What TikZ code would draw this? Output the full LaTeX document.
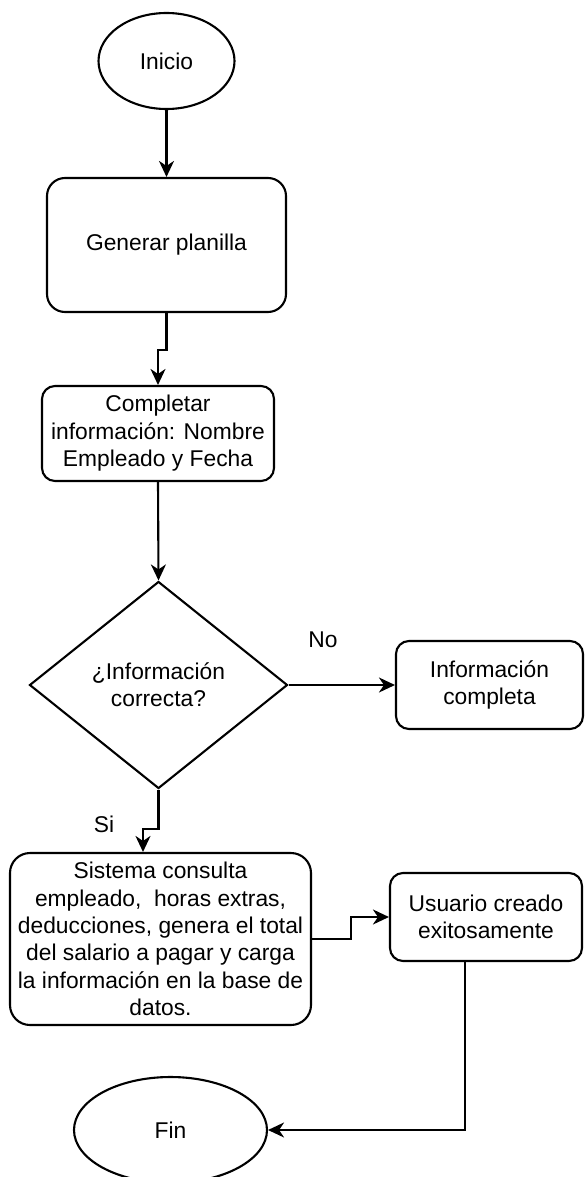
\documentclass[tikz,border=0pt]{standalone}
\usepackage{fontspec}
\setmainfont{Liberation Sans}
\usetikzlibrary{shapes.geometric,arrows.meta}
\begin{document}
\begin{tikzpicture}[x=1pt,y=-1pt,
  every node/.style={font=\fontsize{22.8}{27.4}\selectfont, text=black},
  base/.style={draw=black, line width=2.1pt, inner sep=0pt, align=center},
  term/.style={base, ellipse},
  proc/.style={base, rectangle},
  dec/.style={base, diamond},
  conn/.style={draw=black, line width=2.1pt, -{Stealth[length=16pt,width=15pt,inset=5pt]}},
  lbl/.style={inner sep=0pt}]
\useasboundingbox (0,0) rectangle (584,1177);

% terminals, steps and the decision
\node[term, minimum width=136pt, minimum height=96pt] (ini) at (166.5,61) {Inicio};
\node[proc, rounded corners=18pt, minimum width=239pt, minimum height=134pt] (gen) at (166.5,245) {Generar planilla};
\node[proc, rounded corners=13pt, minimum width=232pt, minimum height=95pt] (comp) at (158,433.5)
  {Completar\\información: Nombre\\Empleado y Fecha};
\node[dec, minimum width=258pt, minimum height=207pt] (chk) at (158.5,685) {¿Información\\correcta?};
\node[proc, rounded corners=13pt, minimum width=187pt, minimum height=88pt] (info) at (489.5,685)
  {Información\\completa};
\node[proc, rounded corners=20pt, minimum width=301pt, minimum height=172pt] (sis) at (160.5,939)
  {Sistema consulta\\empleado, \ horas extras,\\deducciones, genera el total\\del salario a pagar y carga\\la información en la base de\\datos.};
\node[proc, rounded corners=13pt, minimum width=192pt, minimum height=88pt] (usu) at (486,917)
  {Usuario creado\\exitosamente};
\node[term, minimum width=193pt, minimum height=106pt] (fin) at (170.5,1130) {Fin};

% branch labels
\node[lbl] (no) at (323,640) {No};
\node[lbl] (si) at (104,824) {Si};

% connectors
\draw[conn] (ini.south) -- (gen.north);
\draw[conn] (gen.south) -- ++(0,37) -| (comp.north);
\draw[conn] (comp.south) -- (chk.north);
\draw[conn] (chk.east) -- (info.west);
\draw[conn] (chk.south) -- ++(0,39) -| ([xshift=-17.5pt]sis.north);
\draw[conn] (sis.east) -- ++(39,0) |- (usu.west);
\draw[conn] ([xshift=-21pt]usu.south) |- (fin.east);
\end{tikzpicture}
\end{document}
